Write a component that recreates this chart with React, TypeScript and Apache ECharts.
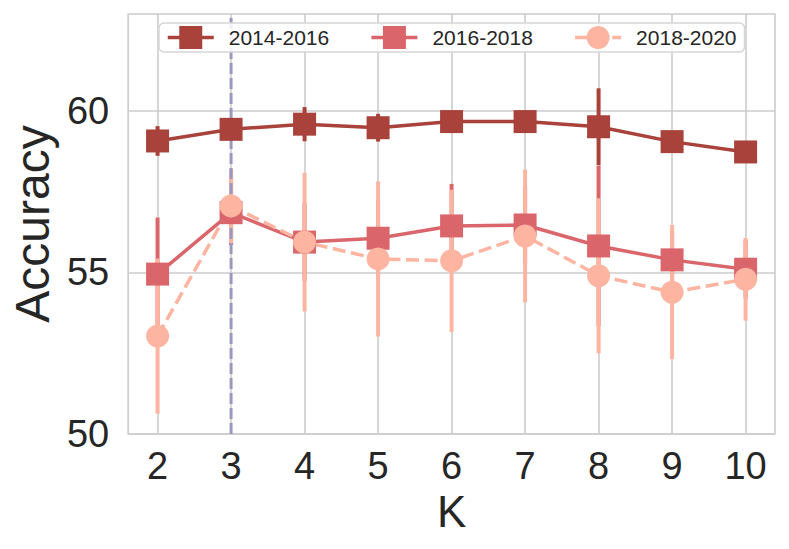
import React, { useEffect, useRef } from "react";
import * as echarts from "echarts";

const K = [2, 3, 4, 5, 6, 7, 8, 9, 10];
const acc1416 = [59.07, 59.43, 59.59, 59.48, 59.67, 59.67, 59.51, 59.05, 58.73];
const err1416 = [0.46, 0.3, 0.53, 0.43, 0.3, 0.3, 1.19, 0.3, 0.3];
const acc1618 = [54.95, 56.85, 55.94, 56.06, 56.44, 56.47, 55.82, 55.39, 55.1];
const err1618 = [1.75, 1.0, 1.2, 1.2, 1.3, 1.2, 2.48, 0.9, 0.9];
const acc1820 = [53.03, 57.06, 55.94, 55.42, 55.36, 56.13, 54.9, 54.39, 54.79];
const err1820 = [2.4, 1.15, 2.15, 2.4, 2.2, 2.05, 2.4, 2.08, 1.28];
const seriesNames = ["2014-2016", "2016-2018", "2018-2020"];
const yTicks = [50, 55, 60];
const bestK = 3;

const C1 = "#a8423a";
const C2 = "#da666c";
const C3 = "#fdb5a1";
const FONT = "'Liberation Sans', Arial, sans-serif";
const TXT = "#262626";

function errSeries(vals: number[], errs: number[], color: string) {
  return {
    type: "custom",
    z: 2,
    silent: true,
    encode: { x: 0, y: [1, 2] },
    data: K.map((k, i) => [k, vals[i] - errs[i], vals[i] + errs[i]]),
    renderItem: (_p: any, api: any) => {
      const x = api.value(0);
      const a = api.coord([x, api.value(1)]);
      const b = api.coord([x, api.value(2)]);
      return {
        type: "line",
        shape: { x1: a[0], y1: a[1], x2: b[0], y2: b[1] },
        style: { stroke: color, lineWidth: 4 },
      };
    },
  };
}

function lineSeries(name: string, vals: number[], color: string, symbol: string, dashed: boolean) {
  return {
    type: "line",
    name,
    z: 3,
    data: K.map((k, i) => [k, vals[i]]),
    symbol,
    symbolSize: 23,
    showAllSymbol: true,
    itemStyle: { color, opacity: 1 },
    lineStyle: { color, width: 3.5, type: dashed ? [13, 5.6] : "solid" },
    emphasis: { disabled: true },
  };
}

export default function App() {
  const ref = useRef<HTMLDivElement>(null);
  useEffect(() => {
    if (!ref.current) return;
    const chart = echarts.init(ref.current, undefined, { renderer: "svg" });
    chart.setOption({
      animation: false,
      backgroundColor: "#ffffff",
      textStyle: { fontFamily: FONT },
      grid: {
        left: 128,
        right: 14,
        top: 14,
        bottom: 115,
        show: true,
        borderColor: "#cccccc",
        borderWidth: 1.6,
        backgroundColor: "transparent",
      },
      legend: {
        data: seriesNames,
        left: 159,
        top: 23,
        orient: "horizontal",
        itemWidth: 46,
        itemHeight: 28.75,
        itemGap: 40.5,
        padding: [3, 8, 3, 7],
        borderColor: "#d6d6d6",
        borderWidth: 1.5,
        borderRadius: 5,
        backgroundColor: "rgba(255,255,255,0.85)",
        lineStyle: { width: 3.5 },
        textStyle: { fontSize: 21, color: TXT, fontFamily: FONT, padding: [0, 0, 0, 10] },
        selectedMode: false,
      },
      xAxis: {
        type: "value",
        min: 1.6,
        max: 10.4,
        name: "K",
        nameLocation: "middle",
        nameGap: 54,
        nameTextStyle: { fontSize: 44, color: TXT, fontFamily: FONT },
        axisLine: { show: false },
        axisTick: { show: false, customValues: K },
        axisLabel: { customValues: K, fontSize: 38, color: TXT, margin: 13, fontFamily: FONT },
        splitLine: { show: true, lineStyle: { color: "#cccccc", width: 1.6 } },
      },
      yAxis: {
        type: "value",
        min: 50,
        max: 63,
        interval: 5,
        name: "Accuracy",
        nameLocation: "middle",
        nameGap: 66,
        nameTextStyle: { fontSize: 48, color: TXT, fontFamily: FONT },
        axisLine: { show: false },
        axisTick: { show: false, customValues: yTicks },
        axisLabel: { customValues: yTicks, fontSize: 38, color: TXT, margin: 19, fontFamily: FONT },
        splitLine: { show: true, lineStyle: { color: "#cccccc", width: 1.6 } },
      },
      series: [
        errSeries(acc1416, err1416, C1),
        errSeries(acc1618, err1618, C2),
        errSeries(acc1820, err1820, C3),
        {
          type: "line",
          z: 2.5,
          silent: true,
          data: [
            [bestK, 50],
            [bestK, 63],
          ],
          showSymbol: false,
          symbol: "none",
          lineStyle: { color: "#9b98c0", width: 3, type: [11, 4] },
        },
        lineSeries(seriesNames[0], acc1416, C1, "rect", false),
        lineSeries(seriesNames[1], acc1618, C2, "rect", false),
        lineSeries(seriesNames[2], acc1820, C3, "circle", true),
      ],
    });
    return () => chart.dispose();
  }, []);
  return (
    <div
      ref={ref}
      style={{ position: "fixed", left: 0, top: 0, width: 789, height: 549 }}
    />
  );
}
